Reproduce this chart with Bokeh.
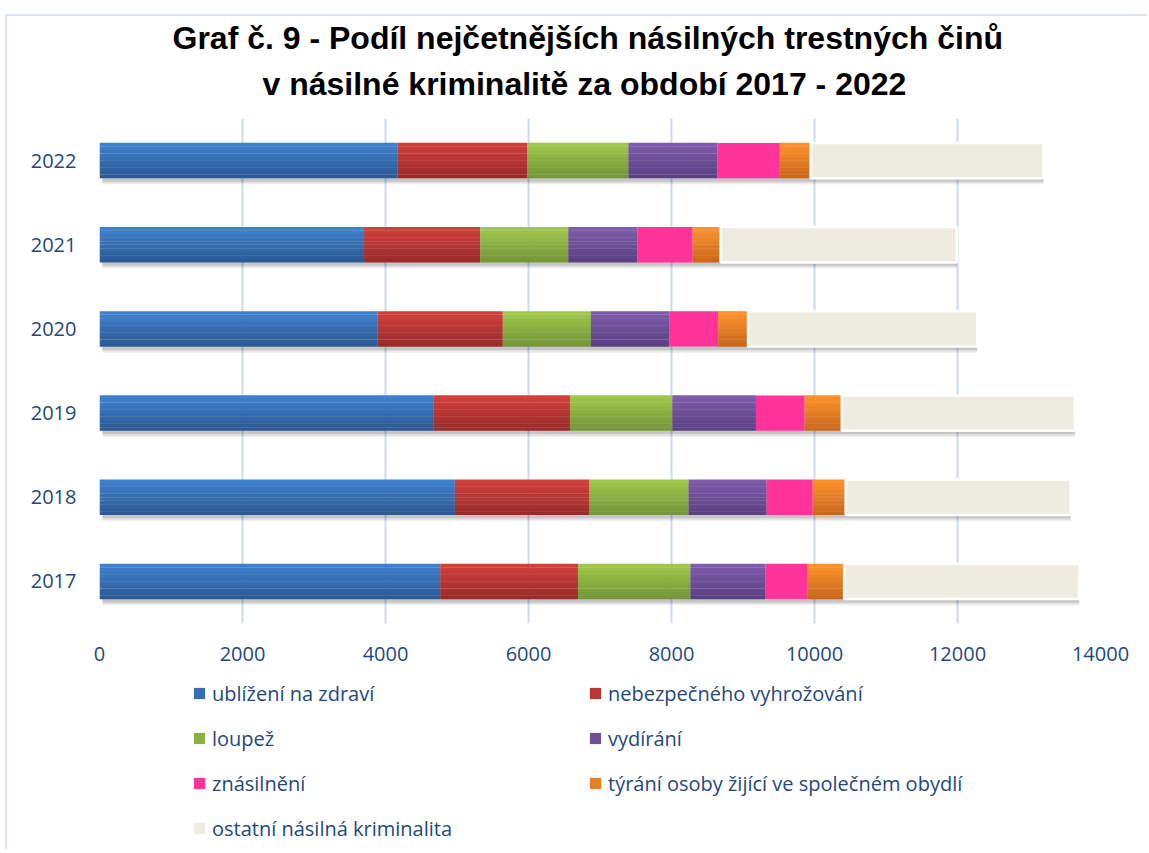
from bokeh.plotting import figure
from bokeh.models import (FactorRange, Legend, LegendItem, Title, SingleIntervalTicker,
                          ColumnDataSource, Range1d)
from bokeh.layouts import column
from bokeh.transform import dodge
from bokeh.embed import file_html
from bokeh.resources import INLINE

years = ["2017", "2018", "2019", "2020", "2021", "2022"]
ublizeni = [4765, 4970, 4676, 3890, 3700, 4170]
vyhrozovani = [1927, 1877, 1904, 1750, 1624, 1810]
loupez = [1572, 1391, 1432, 1232, 1232, 1417]
vydirani = [1052, 1093, 1169, 1095, 966, 1245]
znasilneni = [589, 644, 681, 686, 773, 873]
tyrani = [510, 461, 520, 418, 392, 430]
ostatni = [3288, 3148, 3262, 3204, 3304, 3260]

series_names = ["ublížení na zdraví", "nebezpečného vyhrožování", "loupež", "vydírání",
                "znásilnění", "týrání osoby žijící ve společném obydlí",
                "ostatní násilná kriminalita"]
series_values = [ublizeni, vyhrozovani, loupez, vydirani, znasilneni, tyrani, ostatni]
# (top colour, bottom colour) of each gradient
series_colors = [("#3F80CE", "#2C5A96"), ("#D23F3B", "#9B2B2B"), ("#9FC748", "#759639"),
                 ("#7E5BAB", "#5C4182"), ("#FF3399", "#FF3399"), ("#FF9129", "#CB681C"),
                 ("#EEEBE0", "#EEEBE0")]

TITLE1 = "Graf č. 9 - Podíl nejčetnějších násilných trestných činů"
TITLE2 = "v násilné kriminalitě za období 2017 - 2022"
TEXT = "#1F497D"
FONT = "Open Sans"


def mix(c1, c2, t):
    a = [int(c1[i:i + 2], 16) for i in (1, 3, 5)]
    b = [int(c2[i:i + 2], 16) for i in (1, 3, 5)]
    return "#%02x%02x%02x" % tuple(round(a[k] + (b[k] - a[k]) * t) for k in range(3))


# cumulative positions
lefts, rights = [], []
acc = [0] * len(years)
for vals in series_values:
    lefts.append(list(acc))
    acc = [a + v for a, v in zip(acc, vals)]
    rights.append(list(acc))
totals = acc

W = 1140
p = figure(width=W, height=656, y_range=FactorRange(factors=years, range_padding=0),
           x_range=(0, 14000), output_backend="svg", toolbar_location=None,
           min_border_left=92, min_border_right=47, min_border_top=102, min_border_bottom=49)
p.title.visible = False
p.outline_line_color = None
p.background_fill_color = "white"

BAR_H = 0.42
src = ColumnDataSource(dict(year=years, total=totals))

# soft drop shadow under each bar
for off, a in [(-0.075, 0.05), (-0.058, 0.08), (-0.04, 0.11)]:
    p.hbar(y=dodge("year", off, range=p.y_range), left=40, right="total", height=BAR_H,
           source=src, fill_color="#000000", fill_alpha=a, line_color=None)

NSTRIP = 10
strip_h = BAR_H / NSTRIP
for si, (name, vals, (ctop, cbot)) in enumerate(zip(series_names, series_values, series_colors)):
    s = ColumnDataSource(dict(year=years, left=lefts[si], right=rights[si]))
    if ctop == cbot:
        p.hbar(y="year", left="left", right="right", height=BAR_H, source=s,
               fill_color=ctop,
               line_color="white" if si == 6 else None,
               line_width=2.5 if si == 6 else 0)
    else:
        for k in range(NSTRIP):
            off = BAR_H / 2 - strip_h * (k + 0.5)
            p.hbar(y=dodge("year", off, range=p.y_range), left="left", right="right",
                   height=strip_h * 1.05, source=s,
                   fill_color=mix(ctop, cbot, k / (NSTRIP - 1)), line_color=None)

# axes
p.xaxis.ticker = SingleIntervalTicker(interval=2000)
p.xaxis.axis_line_color = None
p.xaxis.major_tick_line_color = None
p.xaxis.minor_tick_line_color = None
p.xaxis.major_label_standoff = 17
p.xaxis.major_label_text_font = FONT
p.xaxis.major_label_text_font_size = "20px"
p.xaxis.major_label_text_color = TEXT

p.yaxis.axis_line_color = None
p.yaxis.major_tick_line_color = None
p.yaxis.major_label_standoff = 17
p.yaxis.major_label_text_font = FONT
p.yaxis.major_label_text_font_size = "20px"
p.yaxis.major_label_text_color = TEXT

p.xgrid.grid_line_color = "#C9DBF0"
p.xgrid.grid_line_width = 2
p.ygrid.grid_line_color = None

# titles (added nearest-first)
p.add_layout(Title(text=TITLE2, align="left", text_font="Liberation Sans",
                   text_font_style="bold", text_font_size="32px", text_color="black",
                   standoff=33, offset=163), "above")
p.add_layout(Title(text=TITLE1, align="left", text_font="Liberation Sans",
                   text_font_style="bold", text_font_size="32px", text_color="black",
                   standoff=-17, offset=73), "above")

# legend in its own strip below the chart (its glyph renderers lie outside the view)
lf = figure(width=W, height=177, x_range=Range1d(-2, -1), y_range=Range1d(5, 6),
            x_axis_type=None, y_axis_type=None, output_backend="svg", toolbar_location=None,
            min_border=0, outline_line_color=None)
lf.grid.visible = False
items = []
for si, (name, (ctop, cbot)) in enumerate(zip(series_names, series_colors)):
    s = ColumnDataSource(dict(y=[0.5] * len(years), left=lefts[si], right=rights[si]))
    r = lf.hbar(y="y", left="left", right="right", height=0.4, source=s,
                fill_color=mix(ctop, cbot, 0.45), line_color=None)
    items.append(LegendItem(label=name, renderers=[r]))
# two columns, filled row by row
order = [0, 2, 4, 6, 1, 3, 5]
legend = Legend(items=[items[i] for i in order], orientation="vertical", ncols=2,
                location=(93, 7.5), padding=0, margin=0, spacing=18,
                glyph_width=14, glyph_height=14, label_standoff=6,
                label_height=27, label_width=358,
                label_text_font=FONT, label_text_font_size="20px",
                label_text_color=TEXT, border_line_color=None,
                background_fill_alpha=0)
lf.add_layout(legend, "center")

layout = column(p, lf, spacing=0,
                styles={"margin-left": "5px", "margin-top": "14px",
                        "border-left": "2px solid #DCE6F2", "border-top": "2px solid #DCE6F2"})

open("out.html", "w").write(file_html(layout, INLINE))
